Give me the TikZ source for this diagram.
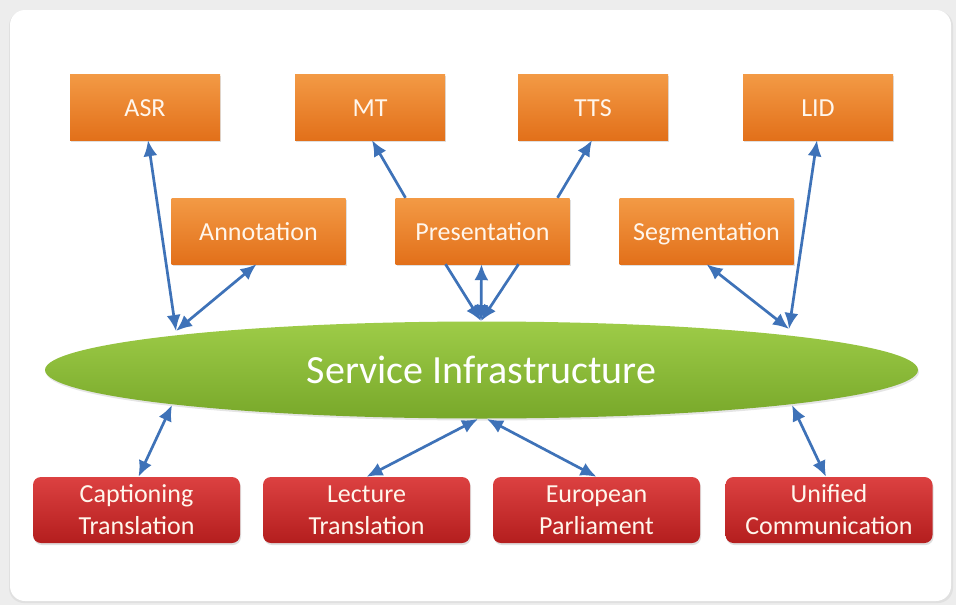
\documentclass[tikz,border=0pt]{standalone}
\usepackage{fontspec}
\setmainfont{Carlito}
\usetikzlibrary{arrows.meta,shadows,shapes.geometric}
\definecolor{arrowblue}{HTML}{3E72B8}
\definecolor{orangetop}{HTML}{F39A45}
\definecolor{orangebot}{HTML}{E2701A}
\definecolor{redtop}{HTML}{DC4141}
\definecolor{redbot}{HTML}{B41E1E}
\definecolor{greentop}{HTML}{9ECC48}
\definecolor{greenbot}{HTML}{78A82A}
\definecolor{cardbg}{HTML}{EDEDED}
\definecolor{boxtext}{HTML}{FFF6EC}
\tikzset{
  topbox/.style={rectangle, minimum width=150pt, minimum height=66pt, inner sep=0pt,
    top color=orangetop, bottom color=orangebot, text=boxtext, font=\fontsize{26}{31}\selectfont,
    text height=19pt, text depth=0pt,
    drop shadow={opacity=0.25, shadow xshift=1pt, shadow yshift=-2pt}},
  midbox/.style={topbox, minimum width=174pt},
  appbox/.style={rectangle, rounded corners=8pt, minimum width=207pt, minimum height=66pt, inner sep=0pt,
    top color=redtop, bottom color=redbot, text=boxtext, align=center,
    font=\fontsize{26}{32}\selectfont,
    drop shadow={opacity=0.25, shadow xshift=1pt, shadow yshift=-2pt}},
  infra/.style={ellipse, minimum width=873pt, minimum height=97pt, inner sep=0pt,
    top color=greentop, bottom color=greenbot, text=white, font=\fontsize{40}{48}\selectfont,
    drop shadow={opacity=0.2, shadow xshift=1pt, shadow yshift=-2pt}},
  conn/.style={draw=arrowblue, line width=2.7pt},
  both/.style={conn, {Latex[length=16pt,width=14pt]}-{Latex[length=16pt,width=14pt]}},
  one/.style={conn, -{Latex[length=16pt,width=14pt]}}
}
\begin{document}
\begin{tikzpicture}[x=1pt,y=-1pt]
\useasboundingbox (0,0) rectangle (956,605);
\fill[cardbg] (0,0) rectangle (956,605);
\fill[black!12] (9,11) [rounded corners=15pt] rectangle (953,603);
\fill[white, rounded corners=15pt] (10,10) rectangle (951,601);

% top services
\node[topbox] (asr) at (145,107) {ASR};
\node[topbox] (mt)  at (370,107) {MT};
\node[topbox] (tts) at (593,107) {TTS};
\node[topbox] (lid) at (818,107) {LID};

% middle services
\node[midbox] (ann)  at (258.5,231) {Annotation};
\node[midbox] (pres) at (482.5,231) {Presentation};
\node[midbox] (seg)  at (706.5,231) {Segmentation};

% infrastructure
\node[infra] (infra) at (481.5,370) {Service Infrastructure};

% applications
\node[appbox] (cap) at (136.5,510) {Captioning\\Translation};
\node[appbox] (lec) at (366.5,510) {Lecture\\Translation};
\node[appbox] (eur) at (596.5,510) {European\\Parliament};
\node[appbox] (uni) at (829,510) {Unified\\Communication};

% attachment points on the ellipse
\coordinate (eL) at (176,331);
\coordinate (eP) at (481,321);
\coordinate (eR) at (789,329);
\coordinate (b1) at (172,405);
\coordinate (b2) at (478,419);
\coordinate (b3) at (487,419);
\coordinate (b4) at (792,405);

% connectors
\draw[both] (eL) -- ([xshift=3pt]asr.south);
\draw[both] (eL) -- ([xshift=-2pt]ann.south);
\draw[one] ([xshift=-77pt]pres.north) -- ([xshift=2pt]mt.south);
\draw[one] ([xshift=75pt]pres.north) -- ([xshift=-1pt]tts.south);
\draw[one] ([xshift=-37pt]pres.south) -- (eP);
\draw[one] ([xshift=36pt]pres.south) -- (eP);
\draw[both] (eP) -- ([xshift=-1pt]pres.south);
\draw[both] (eR) -- (seg.south);
\draw[both] (eR) -- ([xshift=-1pt]lid.south);
\draw[both] (b1) -- ([xshift=2pt]cap.north);
\draw[both] (b2) -- (lec.north);
\draw[both] (b3) -- (eur.north);
\draw[both] (b4) -- ([xshift=-3pt]uni.north);
\end{tikzpicture}
\end{document}
